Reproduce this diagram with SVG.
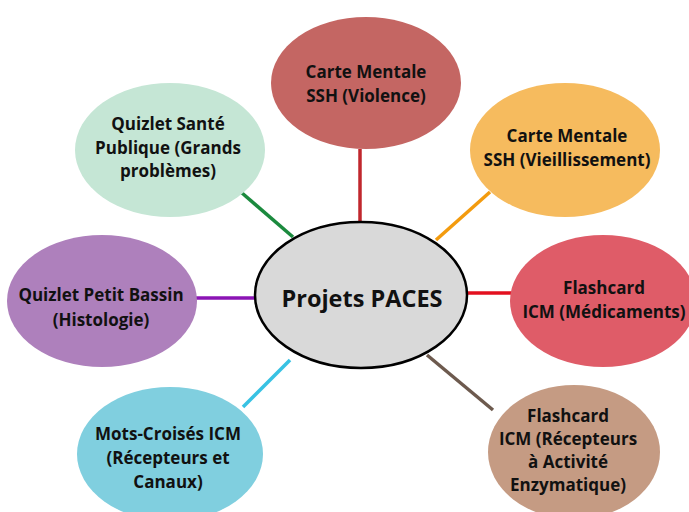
<svg xmlns="http://www.w3.org/2000/svg" width="689" height="512" viewBox="0 0 689 512">
<style>
.t{font-family:"Open Sans","Liberation Sans",sans-serif;font-weight:700;font-size:17px;fill:#111;text-anchor:middle;dominant-baseline:central}
.c{stroke-width:3.5;fill:none}
</style>
<rect width="689" height="512" fill="#fff"/>
<g id="connectors">
<line class="c" x1="360" y1="149" x2="360" y2="224" stroke="#c0272d"/>
<line class="c" x1="490" y1="192" x2="436" y2="240" stroke="#f39b0e"/>
<line class="c" x1="466" y1="293" x2="512" y2="293" stroke="#e3101f"/>
<line class="c" x1="427" y1="355" x2="493" y2="410" stroke="#6d5a4e"/>
<line class="c" x1="243" y1="407" x2="290" y2="360" stroke="#38c2e3"/>
<line class="c" x1="196" y1="298" x2="257" y2="298" stroke="#8b14b5"/>
<line class="c" x1="242" y1="193" x2="293" y2="237" stroke="#1b8a3e"/>
</g>
<g id="n-violence">
<ellipse cx="366" cy="83" rx="95" ry="66" fill="#c46663"/>
<text class="t" x="366" y="71">Carte Mentale</text>
<text class="t" x="366" y="95">SSH (Violence)</text>
</g>
<g id="n-vieillissement">
<ellipse cx="565" cy="150" rx="95" ry="67" fill="#f6bb5e"/>
<text class="t" x="567" y="135">Carte Mentale</text>
<text class="t" x="567" y="159">SSH (Vieillissement)</text>
</g>
<g id="n-medicaments">
<ellipse cx="603" cy="301" rx="93" ry="66" fill="#df5c68"/>
<text class="t" x="604" y="287">Flashcard</text>
<text class="t" x="604" y="311">ICM (Médicaments)</text>
</g>
<g id="n-enzymatique">
<ellipse cx="574" cy="452" rx="86" ry="67" fill="#c59b83"/>
<text class="t" x="568" y="415">Flashcard</text>
<text class="t" x="568" y="438">ICM (Récepteurs</text>
<text class="t" x="568" y="461">à Activité</text>
<text class="t" x="568" y="484">Enzymatique)</text>
</g>
<g id="n-motscroises">
<ellipse cx="170" cy="454" rx="93" ry="67" fill="#80cfdf"/>
<text class="t" x="168" y="433">Mots-Croisés ICM</text>
<text class="t" x="168" y="457">(Récepteurs et</text>
<text class="t" x="168" y="481">Canaux)</text>
</g>
<g id="n-petitbassin">
<ellipse cx="102" cy="301" rx="95" ry="66" fill="#ae80bc"/>
<text class="t" x="101" y="294">Quizlet Petit Bassin</text>
<text class="t" x="101" y="319">(Histologie)</text>
</g>
<g id="n-santepublique">
<ellipse cx="170" cy="150" rx="95" ry="67" fill="#c5e6d5"/>
<text class="t" x="168" y="123">Quizlet Santé</text>
<text class="t" x="168" y="147">Publique (Grands</text>
<text class="t" x="168" y="170">problèmes)</text>
</g>
<g id="n-center">
<ellipse cx="361" cy="295" rx="106" ry="73" fill="#d9d9d9" stroke="#000" stroke-width="2.5"/>
<text class="t" x="362" y="298" style="font-size:23.5px">Projets PACES</text>
</g>
</svg>
